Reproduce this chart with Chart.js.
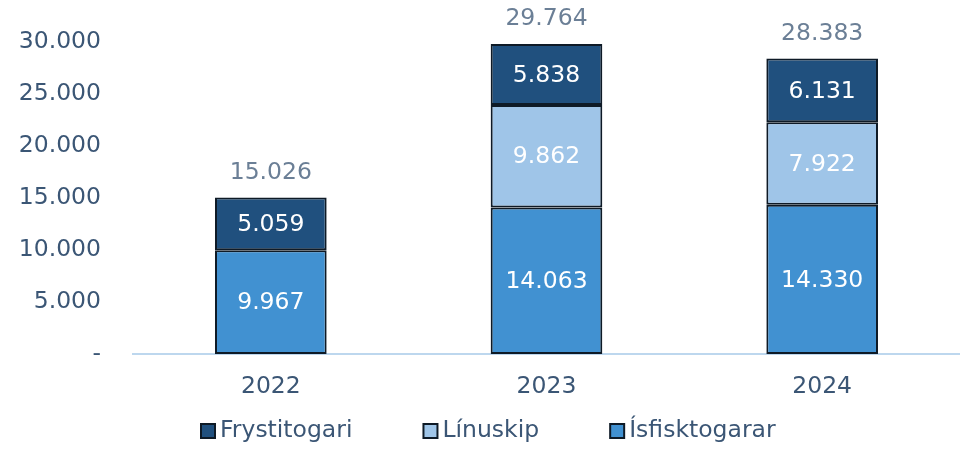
<!DOCTYPE html>
<html>
<head>
<meta charset="utf-8">
<script src="https://cdn.jsdelivr.net/npm/chart.js@4/dist/chart.umd.min.js"></script>
<style>
  html, body { margin: 0; padding: 0; background: #fff; }
  #wrap { width: 960px; height: 454px; }
</style>
</head>
<body>
<div id="wrap"><canvas id="chart" width="960" height="454"></canvas></div>
<script>
var years = ['2022', '2023', '2024'];
var isfisktogarar = [9967, 14063, 14330];
var linuskip = [0, 9862, 7922];
var frystitogari = [5059, 5838, 6131];
var totals = [15026, 29764, 28383];
var yTicks = [0, 5000, 10000, 15000, 20000, 25000, 30000];

var textColor = '#3b5675';
var totalColor = '#6b7f96';
var edgeColor = '#0e1a26';
var mainFont = 'DejaVu Sans';

function fmt(v) {
  return v.toLocaleString('de-DE');
}

// numbers in each segment and the totals above the bars
var labelPlugin = {
  id: 'barLabels',
  afterDatasetsDraw: function(chart) {
    var ctx = chart.ctx;
    ctx.save();
    ctx.font = '23.5px "' + mainFont + '"';
    ctx.textAlign = 'center';
    ctx.textBaseline = 'middle';
    chart.data.datasets.forEach(function(ds, i) {
      var meta = chart.getDatasetMeta(i);
      meta.data.forEach(function(bar, j) {
        if (!ds.data[j]) return;
        ctx.fillStyle = '#ffffff';
        ctx.fillText(fmt(ds.data[j]), bar.x, (bar.y + bar.base) / 2 + 1);
      });
    });
    var lastMeta = chart.getDatasetMeta(chart.data.datasets.length - 1);
    lastMeta.data.forEach(function(bar, j) {
      ctx.fillStyle = totalColor;
      ctx.fillText(fmt(totals[j]), bar.x, bar.y - 25);
    });
    ctx.restore();
  }
};

// legend drawn by hand, top series first, wide gaps between items
var legendPlugin = {
  id: 'wideLegend',
  afterDraw: function(chart) {
    var ctx = chart.ctx;
    var box = 14, gapText = 5, gapItem = 71;
    var y = 431;
    var x = 201;
    ctx.save();
    ctx.font = '23.5px "' + mainFont + '"';
    ctx.textBaseline = 'middle';
    chart.data.datasets.slice().reverse().forEach(function(ds) {
      ctx.fillStyle = ds.backgroundColor;
      ctx.fillRect(x, y - box / 2, box, box);
      ctx.lineWidth = 2;
      ctx.strokeStyle = edgeColor;
      ctx.strokeRect(x, y - box / 2, box, box);
      ctx.fillStyle = textColor;
      ctx.fillText(ds.label, x + box + gapText, y);
      x += box + gapText + ctx.measureText(ds.label).width + gapItem;
    });
    ctx.restore();
  }
};

var ctx = document.getElementById('chart');
new Chart(ctx, {
  type: 'bar',
  data: {
    labels: years,
    datasets: [
      { label: 'Ísfisktogarar', data: isfisktogarar, backgroundColor: '#4191d1' },
      { label: 'Línuskip', data: linuskip, backgroundColor: '#9fc5e8' },
      { label: 'Frystitogari', data: frystitogari, backgroundColor: '#20507e' }
    ]
  },
  options: {
    responsive: false,
    animation: false,
    layout: { padding: { top: 0, right: -4, bottom: 44, left: 0 } },
    datasets: {
      bar: {
        borderColor: edgeColor,
        borderWidth: 2,
        borderSkipped: false,
        barPercentage: 0.405,
        categoryPercentage: 1.0
      }
    },
    plugins: {
      legend: { display: false },
      tooltip: { enabled: false }
    },
    scales: {
      x: {
        stacked: true,
        grid: { display: false, drawTicks: false },
        border: { color: '#bdd7ee', width: 2 },
        afterFit: function(scale) {
          scale.height = 56;
        },
        ticks: {
          color: textColor,
          font: { family: mainFont, size: 23.5 },
          padding: 19
        }
      },
      y: {
        stacked: true,
        min: 0,
        max: 34000,
        grid: { display: false, drawTicks: false },
        border: { display: false },
        afterBuildTicks: function(scale) {
          scale.ticks = yTicks.map(function(v) { return { value: v }; });
        },
        afterFit: function(scale) {
          scale.width = 133;
          scale.paddingTop = 0;
        },
        ticks: {
          color: textColor,
          font: { family: mainFont, size: 23.5 },
          padding: 32,
          callback: function(v) {
            return v === 0 ? '-' : fmt(v);
          }
        }
      }
    }
  },
  plugins: [labelPlugin, legendPlugin]
});
</script>
</body>
</html>
